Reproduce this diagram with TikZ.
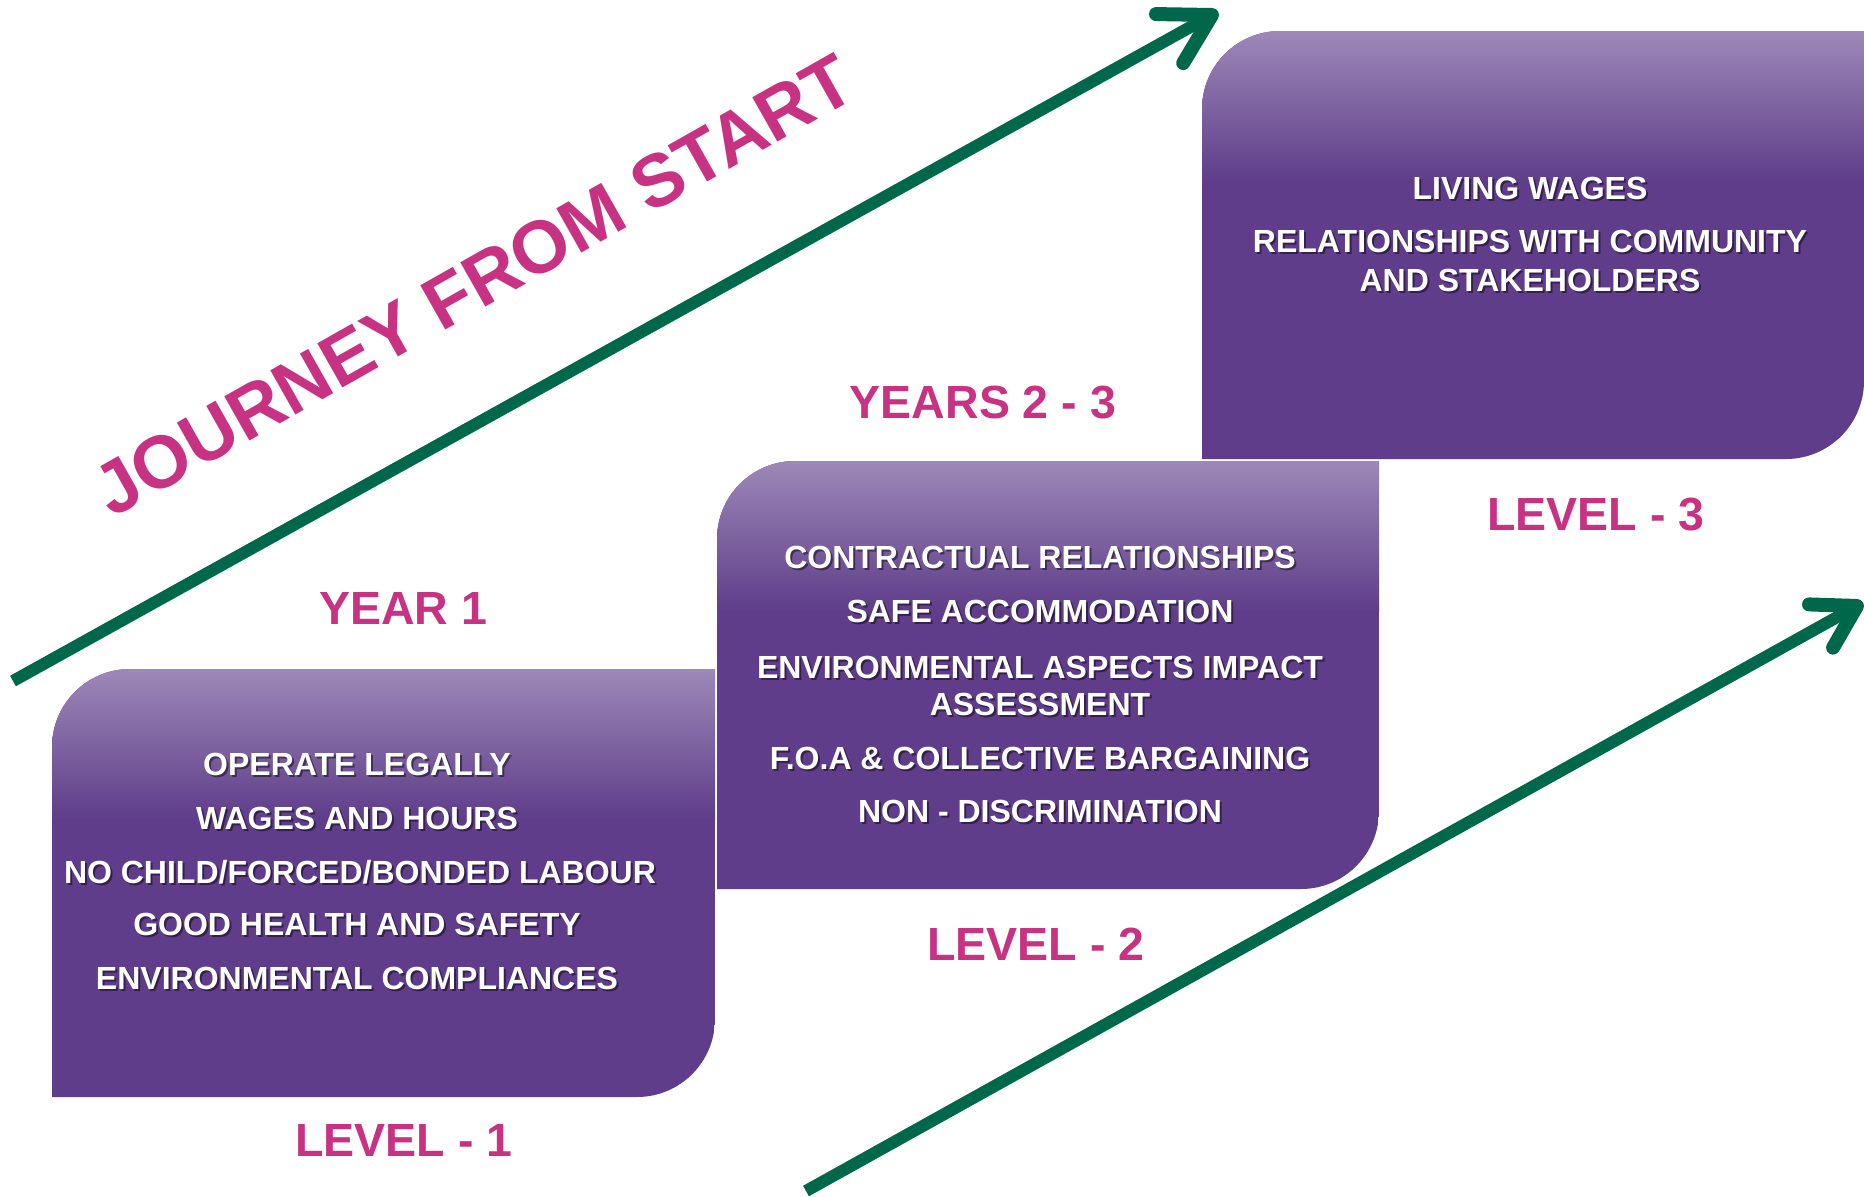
\documentclass[tikz,border=0pt]{standalone}
\usepackage{fontspec}
\setmainfont{Liberation Sans}
\usetikzlibrary{calc}
\definecolor{boxtop}{RGB}{157,137,184}
\definecolor{boxdark}{RGB}{95,61,138}
\definecolor{jgreen}{RGB}{0,104,74}
\definecolor{jpink}{RGB}{200,50,130}
\tikzset{
  itemtxt/.style={text=white, font=\bfseries\fontsize{32}{37}\selectfont, inner sep=0pt, text height=22.9pt, text depth=0pt, anchor=center},
  itemshadow/.style={itemtxt, text=black, opacity=0.45},
  lbl/.style={text=jpink, font=\bfseries\fontsize{46.5}{50}\selectfont, inner sep=0pt, text height=33.3pt, text depth=0pt, anchor=center},
  titletxt/.style={text=jpink, font=\bfseries\fontsize{74}{80}\selectfont, inner sep=0pt, text height=53pt, text depth=0pt, anchor=center},
  shaft/.style={draw=jgreen, line width=12pt, line cap=butt},
  arrowhd/.style={draw=jgreen, line width=14pt, line cap=round, line join=round},
}
\newcommand\stagebox[4]{%
  \begin{scope}
    \clip (#1,#4) -- (#1,#2+78) arc[start angle=180,end angle=90,radius=78pt]
      -- (#3,#2) -- (#3,#4-78) arc[start angle=0,end angle=-90,radius=78pt] -- cycle;
    \fill[boxdark] (#1,#2-1) rectangle (#3,#4+1);
    \shade[top color=boxtop,bottom color=boxdark] (#1,#2-1) rectangle (#3,#2+150);
  \end{scope}}
\newcommand\itemline[4]{%
  \node[itemshadow] (#1s) at (#2+2,#3+2.5) {#4};
  \node[itemtxt] (#1) at (#2,#3) {#4};}
\begin{document}
\begin{tikzpicture}[x=1pt,y=-1pt]
\useasboundingbox (0,0) rectangle (1864,1197);
\fill[white] (0,0) rectangle (1864,1197);

% arrows
\coordinate (a1s) at (13,681);
\coordinate (a1e) at (1212,15);
\draw[shaft] (a1s) -- (a1e);
\draw[arrowhd] ($(a1e)!56pt!30:(a1s)$) -- (a1e) -- ($(a1e)!56pt!-30:(a1s)$);

\coordinate (a2s) at (806,1191);
\coordinate (a2e) at (1857,606);
\draw[shaft] (a2s) -- (a2e);
\draw[arrowhd] ($(a2e)!48pt!31:(a2s)$) -- (a2e) -- ($(a2e)!48pt!-31:(a2s)$);

% boxes
\stagebox{52}{669}{715}{1097}
\stagebox{717}{461}{1379}{889}
\stagebox{1202}{31}{1864}{459}

% box 1 items
\itemline{b1a}{357}{764}{OPERATE LEGALLY}
\itemline{b1b}{357}{818}{WAGES AND HOURS}
\itemline{b1c}{360}{872}{NO CHILD/FORCED/BONDED LABOUR}
\itemline{b1d}{357}{924}{GOOD HEALTH AND SAFETY}
\itemline{b1e}{357}{978}{ENVIRONMENTAL COMPLIANCES}

% box 2 items
\itemline{b2a}{1040}{557}{CONTRACTUAL RELATIONSHIPS}
\itemline{b2b}{1040}{611}{SAFE ACCOMMODATION}
\itemline{b2c}{1040}{667}{ENVIRONMENTAL ASPECTS IMPACT}
\itemline{b2d}{1040}{704}{ASSESSMENT}
\itemline{b2e}{1040}{758}{F.O.A \& COLLECTIVE BARGAINING}
\itemline{b2f}{1040}{811}{NON - DISCRIMINATION}

% box 3 items
\itemline{b3a}{1530}{188}{LIVING WAGES}
\itemline{b3b}{1530}{241}{RELATIONSHIPS WITH COMMUNITY}
\itemline{b3c}{1530}{280}{AND STAKEHOLDERS}

% labels
\node[lbl] (year1) at (403,608) {YEAR 1};
\node[lbl] (year23) at (983,402) {YEARS 2 - 3};
\node[lbl] (lev1) at (404,1140) {LEVEL - 1};
\node[lbl] (lev2) at (1036,944) {LEVEL - 2};
\node[lbl] (lev3) at (1596,514) {LEVEL - 3};

\node[titletxt, rotate=29.5] (title) at (473,284) {JOURNEY FROM START};
\end{tikzpicture}
\end{document}
